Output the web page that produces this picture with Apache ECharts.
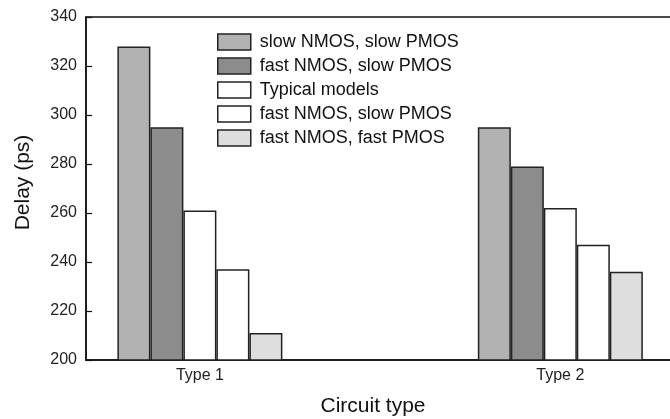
<!DOCTYPE html>
<html>
<head>
<meta charset="utf-8">
<script src="https://cdn.jsdelivr.net/npm/echarts@6/dist/echarts.min.js"></script>
<style>
  html, body { margin: 0; padding: 0; background: #fff; }
  #chart { width: 670px; height: 419px; }
</style>
</head>
<body>
<div id="chart"></div>
<script>
// 电路类型（x 轴上的位置）
const categories = ['Type 1', 'Type 2']
const categoryPos = [1, 2]

// 各工艺角下的延迟 (ps)
// 第 4 个图例与第 2 个同名，末尾加空格以免图例合并
const seriesNames = [
  'slow NMOS, slow PMOS',
  'fast NMOS, slow PMOS',
  'Typical models',
  'fast NMOS, slow PMOS ',
  'fast NMOS, fast PMOS'
]
const slowSlow = [328, 295]
const fastSlow = [295, 279]
const typical = [261, 262]
const fastSlow2 = [237, 247]
const fastFast = [211, 236]

const yTicks = [200, 220, 240, 260, 280, 300, 320, 340]

const values = [slowSlow, fastSlow, typical, fastSlow2, fastFast]
const colors = ['#b2b2b2', '#8c8c8c', '#ffffff', '#ffffff', '#dedede']

const chartDom = document.getElementById('chart')
const chart = echarts.init(chartDom)

const series = values.map((vals, i) => ({
  name: seriesNames[i],
  type: 'bar',
  barWidth: 33,
  barGap: '0%',
  data: vals.map((v, j) => [categoryPos[j], v]),
  itemStyle: {
    color: colors[i],
    borderColor: '#222',
    borderWidth: 1.5
  },
  emphasis: { disabled: true }
}))

chart.setOption({
  animation: false,
  textStyle: { fontFamily: 'Liberation Sans, Arial, sans-serif' },
  grid: {
    left: 86,
    top: 17,
    width: 594,
    bottom: 59,
    outerBoundsMode: 'none',
    containLabel: false,
    show: true,
    borderColor: '#111',
    borderWidth: 1.5
  },
  legend: {
    orient: 'vertical',
    left: 217,
    top: 33,
    padding: 0,
    itemWidth: 33,
    itemHeight: 16,
    itemGap: 6,
    icon: 'rect',
    selectedMode: false,
    textStyle: { fontSize: 18, color: '#111', padding: [0, 0, 0, 4] },
    data: seriesNames.map((n, i) => ({ name: n, itemStyle: { color: colors[i], borderColor: '#222', borderWidth: 1.5 } }))
  },
  xAxis: {
    type: 'value',
    min: 0.684,
    max: 2.332,
    name: 'Circuit type',
    nameLocation: 'middle',
    nameGap: 36,
    nameTextStyle: { fontSize: 21, color: '#111', padding: [0, 20, 0, 0] },
    axisLine: { show: true, lineStyle: { color: '#111', width: 1.5 } },
    axisTick: { show: false },
    splitLine: { show: false },
    axisLabel: {
      customValues: categoryPos,
      fontSize: 16,
      color: '#222',
      margin: 8,
      formatter: (v) => categories[categoryPos.indexOf(v)] || ''
    }
  },
  yAxis: {
    type: 'value',
    min: yTicks[0],
    max: yTicks[yTicks.length - 1],
    interval: 20,
    name: 'Delay (ps)',
    nameLocation: 'middle',
    nameGap: 52,
    nameTextStyle: { fontSize: 21, color: '#111', padding: [0, 0, 0, 12] },
    axisLine: { show: true, lineStyle: { color: '#111', width: 1.5 } },
    axisTick: { show: true, inside: true, length: 6, lineStyle: { color: '#111', width: 1.2 } },
    splitLine: { show: false },
    axisLabel: { fontSize: 16, color: '#222', margin: 9 }
  },
  series
})
</script>
</body>
</html>
